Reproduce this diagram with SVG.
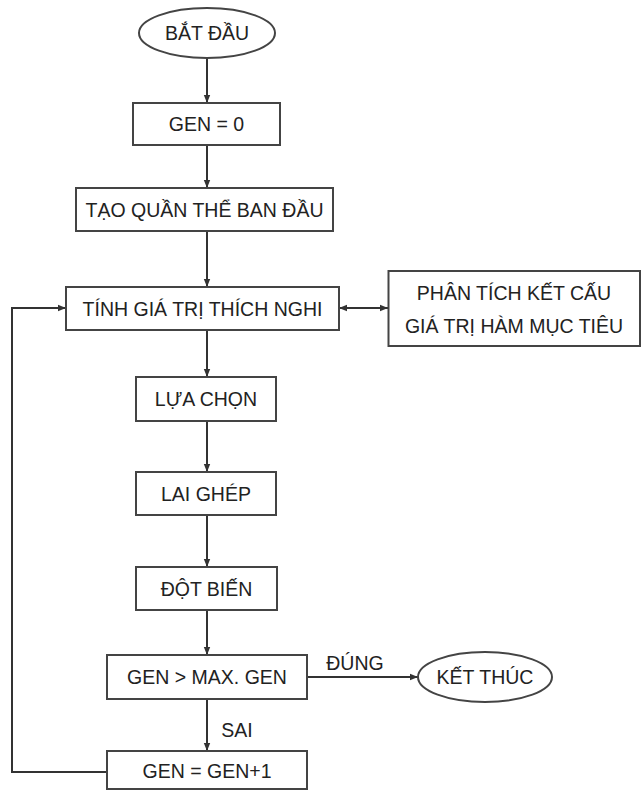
<svg xmlns="http://www.w3.org/2000/svg" width="642" height="792" viewBox="0 0 642 792">
<defs>
<marker id="ah" viewBox="0 0 10 10" refX="10" refY="5" markerWidth="8" markerHeight="8" markerUnits="userSpaceOnUse" orient="auto-start-reverse">
<path d="M0,1 L10,5 L0,9 z" fill="#333"/>
</marker>
<style>
.box{fill:#fff;stroke:#444;stroke-width:2}
.t{font-family:"Liberation Sans",Arial,sans-serif;font-size:19.5px;fill:#222;text-anchor:middle}
.c{fill:none;stroke:#333;stroke-width:2}
</style>
</defs>
<rect width="642" height="792" fill="#fff"/>
<g id="connectors">
<line class="c" x1="207" y1="58" x2="207" y2="103" marker-end="url(#ah)"/>
<line class="c" x1="207" y1="145" x2="207" y2="188" marker-end="url(#ah)"/>
<line class="c" x1="207" y1="231" x2="207" y2="287" marker-end="url(#ah)"/>
<line class="c" x1="207" y1="330" x2="207" y2="377" marker-end="url(#ah)"/>
<line class="c" x1="207" y1="421" x2="207" y2="472" marker-end="url(#ah)"/>
<line class="c" x1="207" y1="515" x2="207" y2="567" marker-end="url(#ah)"/>
<line class="c" x1="207" y1="610" x2="207" y2="655" marker-end="url(#ah)"/>
<line class="c" x1="207" y1="699" x2="207" y2="751" marker-end="url(#ah)"/>
<line class="c" x1="307" y1="677" x2="418" y2="677" marker-end="url(#ah)"/>
<polyline class="c" points="107,772 12,772 12,308 66,308" marker-end="url(#ah)"/>
<line class="c" x1="339" y1="308" x2="388" y2="308" marker-start="url(#ah)" marker-end="url(#ah)"/>
<text class="t" x="355" y="670">ĐÚNG</text>
<text class="t" x="237" y="737">SAI</text>
</g>
<g id="start">
<ellipse class="box" cx="207" cy="33" rx="68" ry="25"/>
<text class="t" x="207" y="40">BẮT ĐẦU</text>
</g>
<g id="gen0">
<rect class="box" x="133" y="103" width="147" height="42"/>
<text class="t" x="206.5" y="131">GEN = 0</text>
</g>
<g id="init">
<rect class="box" x="76" y="188" width="257" height="43"/>
<text class="t" x="204.5" y="216.5">TẠO QUẦN THỂ BAN ĐẦU</text>
</g>
<g id="fitness">
<rect class="box" x="66" y="287" width="273" height="43"/>
<text class="t" x="202.5" y="315.5">TÍNH GIÁ TRỊ THÍCH NGHI</text>
</g>
<g id="analysis">
<rect class="box" x="388.5" y="271" width="251.5" height="75"/>
<text class="t" x="514" y="300">PHÂN TÍCH KẾT CẤU</text>
<text class="t" x="514" y="333">GIÁ TRỊ HÀM MỤC TIÊU</text>
</g>
<g id="select">
<rect class="box" x="136" y="377" width="140" height="44"/>
<text class="t" x="206" y="406">LỰA CHỌN</text>
</g>
<g id="crossover">
<rect class="box" x="136" y="472" width="140" height="43"/>
<text class="t" x="206" y="500.5">LAI GHÉP</text>
</g>
<g id="mutation">
<rect class="box" x="136" y="567" width="141" height="43"/>
<text class="t" x="206.5" y="595.5">ĐỘT BIẾN</text>
</g>
<g id="check">
<rect class="box" x="107" y="655" width="200" height="44"/>
<text class="t" x="207" y="684">GEN &gt; MAX. GEN</text>
</g>
<g id="end">
<ellipse class="box" cx="485" cy="677" rx="67" ry="25"/>
<text class="t" x="485" y="684">KẾT THÚC</text>
</g>
<g id="increment">
<rect class="box" x="107" y="751" width="200" height="38"/>
<text class="t" x="207" y="778">GEN = GEN+1</text>
</g>
</svg>
